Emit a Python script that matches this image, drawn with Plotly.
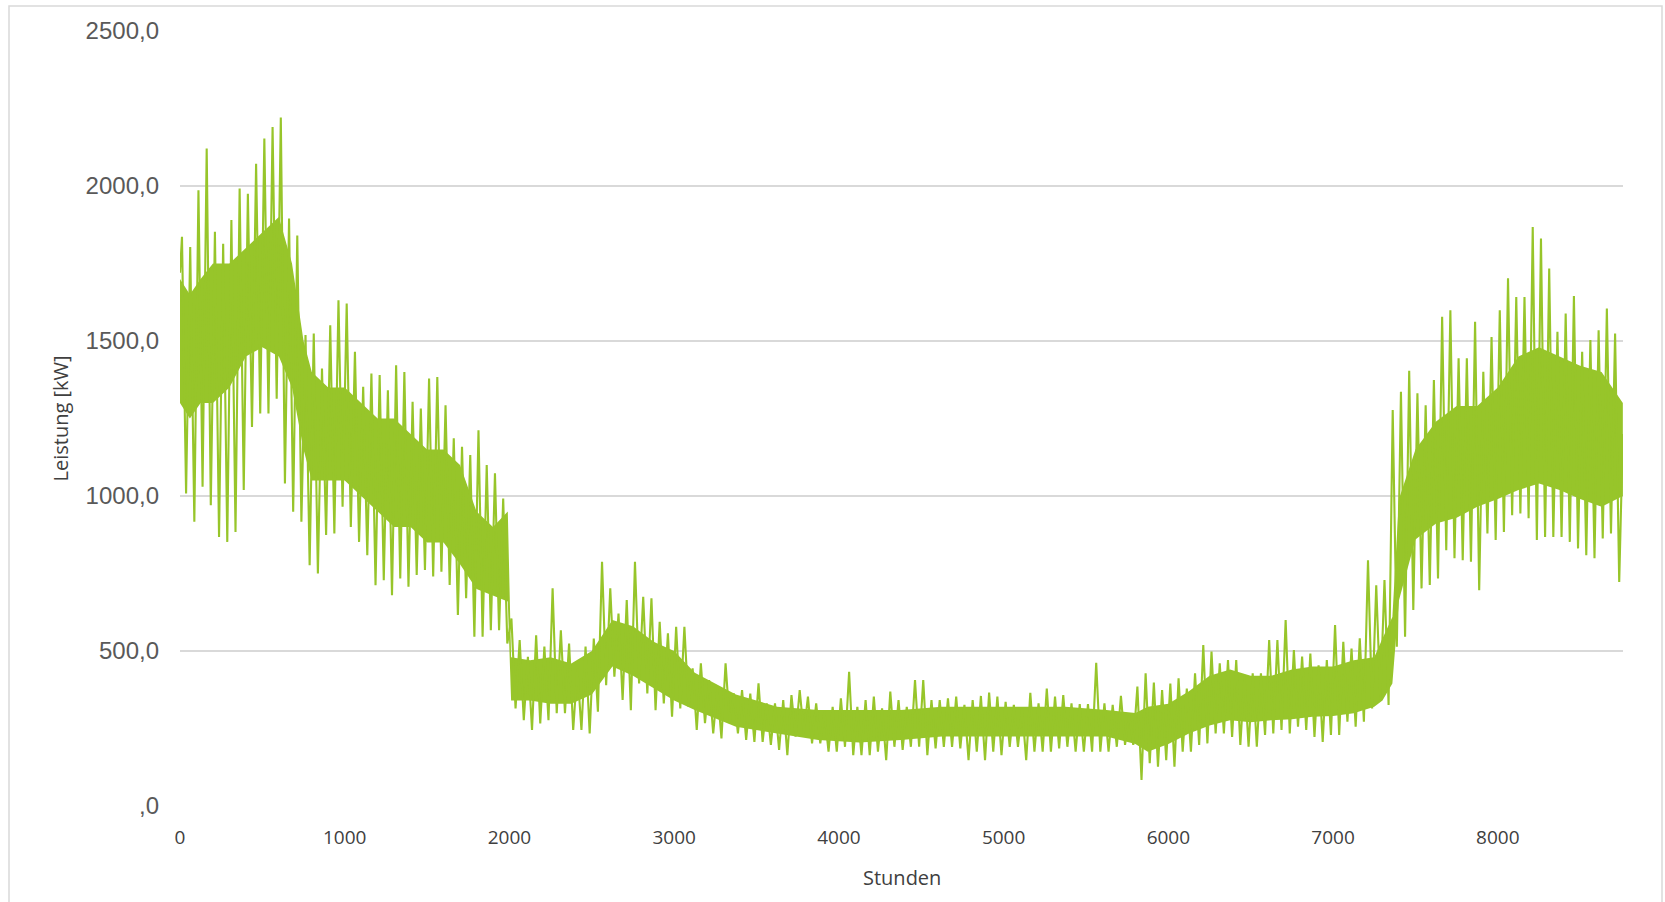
import plotly.graph_objects as go

# ---- data (hourly load, per 50-hour block: local max / local min) ----
block_hours = 50
block_high = [
    1836, 1803, 1986, 2121, 1852, 1814, 1890, 1992, 1975, 2072,
    2153, 2190, 2221, 1895, 1840, 1519, 1524, 1411, 1551, 1631,
    1621, 1465, 1352, 1395, 1390, 1341, 1422, 1400, 1304, 1282,
    1379, 1384, 1293, 1186, 1159, 1132, 1212, 1100, 1073, 992,
    605, 535, 481, 551, 514, 702, 567, 524, 444, 514,
    540, 788, 702, 621, 664, 788, 675, 670, 594, 557,
    578, 578, 444, 460, 406, 379, 460, 363, 374, 363,
    396, 331, 331, 342, 358, 374, 353, 331, 304, 320,
    347, 433, 320, 342, 353, 315, 369, 342, 320, 406,
    406, 342, 342, 347, 353, 326, 342, 355, 366, 353,
    336, 326, 315, 365, 331, 379, 353, 358, 331, 329,
    329, 462, 331, 326, 355, 293, 385, 428, 398, 374,
    395, 412, 379, 428, 519, 498, 460, 471, 471, 422,
    428, 428, 535, 535, 600, 503, 482, 492, 454, 471,
    584, 530, 508, 541, 793, 712, 729, 1277, 1336, 1404,
    1331, 1293, 1374, 1578, 1599, 1444, 1444, 1562, 1401, 1513,
    1599, 1702, 1642, 1642, 1868, 1831, 1734, 1530, 1589, 1645,
    1465, 1503, 1535, 1605, 1524,
]
block_low = [
    1008, 917, 1030, 970, 868, 852, 884, 1019, 1223, 1266,
    1266, 1314, 1040, 949, 917, 777, 750, 874, 879, 965,
    900, 852, 809, 712, 728, 680, 734, 707, 745, 761,
    740, 756, 713, 616, 670, 546, 546, 567, 567, 524,
    315, 277, 245, 266, 277, 299, 299, 245, 245, 234,
    304, 390, 417, 342, 309, 395, 363, 309, 331, 288,
    315, 320, 245, 267, 234, 218, 267, 234, 213, 207,
    207, 197, 181, 164, 224, 234, 202, 202, 175, 175,
    191, 164, 164, 164, 175, 148, 191, 181, 191, 191,
    164, 186, 191, 191, 186, 148, 175, 148, 175, 164,
    191, 191, 148, 175, 175, 175, 186, 191, 175, 175,
    175, 175, 175, 191, 197, 197, 84, 138, 127, 148,
    127, 175, 175, 197, 202, 234, 234, 223, 197, 191,
    191, 229, 234, 245, 234, 256, 245, 223, 207, 229,
    229, 272, 256, 272, 315, 342, 326, 514, 546, 632,
    702, 713, 734, 825, 799, 793, 788, 696, 879, 858,
    884, 938, 944, 928, 858, 868, 868, 868, 852, 831,
    809, 799, 863, 879, 723,
]
start_value = 1720
end_value = 1200
last_hour = 8759

# dense core of the daily oscillation
core_hours = [0, 60, 125, 200, 300, 400, 500, 600, 680, 750,
              800, 900, 1000, 1100, 1200, 1300, 1400, 1500, 1600, 1700,
              1800, 1900, 1990, 2010, 2125, 2250, 2375, 2500, 2625, 2750,
              2875, 3000, 3125, 3375, 3625, 3875, 4125, 4375, 4625, 4875,
              5125, 5375, 5625, 5800, 5875, 6000, 6125, 6250, 6375, 6500,
              6625, 6750, 6875, 7000, 7125, 7250, 7300, 7360, 7400, 7500,
              7625, 7750, 7875, 8000, 8125, 8250, 8375, 8500, 8630, 8759]
core_high = [1700, 1650, 1700, 1750, 1750, 1800, 1850, 1900, 1750, 1500,
             1400, 1350, 1350, 1300, 1250, 1250, 1200, 1150, 1150, 1100,
             950, 900, 950, 480, 470, 480, 460, 500, 600, 580,
             530, 500, 430, 360, 320, 310, 310, 310, 320, 320,
             320, 320, 310, 300, 320, 330, 370, 420, 440, 420,
             420, 440, 450, 450, 470, 480, 540, 610, 990, 1150,
             1240, 1290, 1290, 1350, 1450, 1480, 1450, 1420, 1400, 1300]
core_low = [1300, 1250, 1300, 1300, 1350, 1450, 1480, 1450, 1350, 1150,
            1050, 1050, 1050, 1000, 950, 900, 900, 850, 850, 780,
            700, 680, 660, 340, 340, 330, 330, 360, 450, 420,
            380, 340, 310, 256, 234, 213, 205, 213, 224, 224,
            224, 224, 224, 200, 175, 200, 234, 260, 277, 270,
            277, 280, 288, 290, 299, 320, 340, 395, 664, 860,
            911, 930, 965, 990, 1019, 1040, 1019, 990, 965, 1000]

y_tickvals = [0, 500, 1000, 1500, 2000, 2500]
y_ticktext = [",0", "500,0", "1000,0", "1500,0", "2000,0", "2500,0"]
x_tickvals = [0, 1000, 2000, 3000, 4000, 5000, 6000, 7000, 8000]

# ---- build the oscillating trace from the block extremes ----
hi_x = [i * block_hours + 12 for i in range(len(block_high))]
lo_x = [i * block_hours + 37 for i in range(len(block_low))]
xs, ys = [0], [start_value]
for hx, hv, lx, lv in zip(hi_x, block_high, lo_x, block_low):
    xs += [hx, lx]
    ys += [hv, lv]
xs.append(last_hour)
ys.append(end_value)

GREEN = "#97C52A"
GRID = "#D9D9D9"

W, H = 1665, 902
ML, MR, MT, MB = 180, 42, 31, 96
PW, PH = W - ML - MR, H - MT - MB

fig = go.Figure()
fig.add_trace(go.Scatter(
    x=core_hours, y=core_high, mode="lines",
    line=dict(color=GREEN, width=0), hoverinfo="skip", showlegend=False,
))
fig.add_trace(go.Scatter(
    x=core_hours, y=core_low, mode="lines",
    line=dict(color=GREEN, width=0), hoverinfo="skip",
    fill="tonexty", fillcolor=GREEN, showlegend=False,
))
fig.add_trace(go.Scatter(
    x=xs, y=ys, mode="lines",
    line=dict(color=GREEN, width=2.1),
    hoverinfo="x+y", showlegend=False,
))

fig.update_layout(
    width=W, height=H,
    margin=dict(l=ML, r=MR, t=MT, b=MB),
    paper_bgcolor="white", plot_bgcolor="white",
    xaxis=dict(
        range=[0, 8760], tickvals=x_tickvals,
        showgrid=False, zeroline=False, showline=False,
        ticks="", tickfont=dict(family="Open Sans", size=19, color="#404040"),
        ticklabelstandoff=18,
    ),
    yaxis=dict(
        range=[0, 2500], tickvals=y_tickvals, ticktext=y_ticktext,
        showgrid=True, gridcolor=GRID, gridwidth=1.5,
        zeroline=False, showline=False, ticks="",
        tickfont=dict(family="Liberation Sans", size=24, color="#595959"),
        ticklabelstandoff=20,
    ),
    annotations=[
        dict(text="Leistung [kW]", xref="paper", yref="paper",
             x=(60 - ML) / PW, y=0.5, textangle=-90, showarrow=False,
             xanchor="center", yanchor="middle",
             font=dict(family="Open Sans", size=20, color="#404040")),
        dict(text="Stunden", xref="paper", yref="paper",
             x=0.5, y=-(877 - (MT + PH)) / PH, showarrow=False,
             xanchor="center", yanchor="middle",
             font=dict(family="Open Sans", size=20, color="#404040")),
    ],
    shapes=[
        dict(type="rect", xref="paper", yref="paper",
             x0=(9 - ML) / PW, x1=(1662 - ML) / PW,
             y0=-(H + 5 - MT - PH) / PH, y1=(MT + PH - 6) / PH,
             line=dict(color=GRID, width=1.5), fillcolor="rgba(0,0,0,0)",
             layer="below"),
    ],
)

fig.write_html(
    "out.html",
    config={"displayModeBar": False},
    post_script="document.body.style.margin='0';document.body.style.overflow='hidden';",
)
